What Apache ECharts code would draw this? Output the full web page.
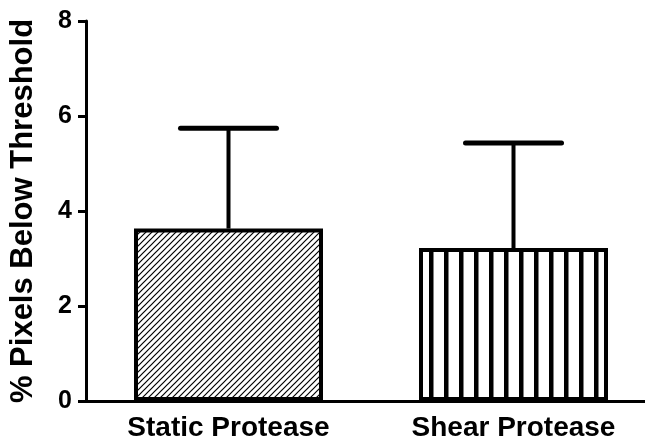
<!DOCTYPE html>
<html>
<head>
<meta charset="utf-8">
<script src="https://cdn.jsdelivr.net/npm/echarts@6/dist/echarts.min.js"></script>
<style>
html,body{margin:0;padding:0;background:#fff;overflow:hidden;width:645px;height:446px;}
#c{width:660px;height:446px;}
</style>
</head>
<body>
<div id="c"></div>
<script>
var categories = ['Static Protease', 'Shear Protease'];
var means = [3.63, 3.22];
var upperErr = [5.74, 5.43];
var yTicks = [0, 2, 4, 6, 8];

function diagPattern() {
  var s = 6;
  var cv = document.createElement('canvas');
  cv.width = s; cv.height = s;
  var ctx = cv.getContext('2d');
  ctx.fillStyle = '#fff'; ctx.fillRect(0, 0, s, s);
  ctx.strokeStyle = '#000'; ctx.lineWidth = 1.2;
  ctx.beginPath();
  ctx.moveTo(-1, s + 1); ctx.lineTo(s + 1, -1);
  ctx.moveTo(-1, 1); ctx.lineTo(1, -1);
  ctx.moveTo(s - 1, s + 1); ctx.lineTo(s + 1, s - 1);
  ctx.stroke();
  return cv;
}
function vertPattern() {
  var w = 15;
  var cv = document.createElement('canvas');
  cv.width = w; cv.height = 10;
  var ctx = cv.getContext('2d');
  ctx.fillStyle = '#fff'; ctx.fillRect(0, 0, w, 10);
  ctx.fillStyle = '#000'; ctx.fillRect(9, 0, 4.5, 10);
  return cv;
}

var patterns = [
  { image: diagPattern(), repeat: 'repeat' },
  { image: vertPattern(), repeat: 'repeat' }
];

var chart = echarts.init(document.getElementById('c'), null, { renderer: 'canvas' });
var font = '"Liberation Sans", Arial, sans-serif';
chart.setOption({
  animation: false,
  backgroundColor: '#fff',
  grid: { left: 86, top: 21, width: 570, height: 380, containLabel: false, outerBoundsMode: 'none' },
  xAxis: {
    type: 'category',
    data: categories,
    axisLine: { lineStyle: { color: '#000', width: 3 } },
    axisTick: { alignWithLabel: true, length: 10, lineStyle: { color: '#000', width: 3 } },
    axisLabel: { color: '#000', fontFamily: font, fontWeight: 'bold', fontSize: 28, margin: 13 },
    splitLine: { show: false }
  },
  yAxis: {
    type: 'value',
    min: 0, max: 8, interval: 2,
    name: '% Pixels Below Threshold',
    nameLocation: 'middle',
    nameGap: 47,
    nameTextStyle: { color: '#000', fontFamily: font, fontWeight: 'bold', fontSize: 31 },
    axisLine: { show: true, lineStyle: { color: '#000', width: 3 } },
    axisTick: { show: true, length: 8, lineStyle: { color: '#000', width: 3 } },
    axisLabel: { color: '#000', fontFamily: font, fontWeight: 'bold', fontSize: 25, margin: 14,
      formatter: function (v) { return yTicks.indexOf(v) >= 0 ? String(v) : ''; } },
    splitLine: { show: false }
  },
  series: [
    {
      type: 'bar',
      barWidth: 189,
      data: means.map(function (v, i) {
        return { value: v, itemStyle: { color: patterns[i], borderColor: '#000', borderWidth: 4 } };
      }),
      z: 2
    },
    {
      type: 'custom',
      z: 3,
      data: means.map(function (v, i) { return [i, v, upperErr[i]]; }),
      renderItem: function (params, api) {
        var base = api.coord([api.value(0), api.value(1)]);
        var top = api.coord([api.value(0), api.value(2)]);
        var half = 48;
        return {
          type: 'group',
          children: [
            { type: 'line', shape: { x1: base[0], y1: base[1], x2: top[0], y2: top[1] },
              style: { stroke: '#000', lineWidth: 4 } },
            { type: 'line', shape: { x1: top[0] - half, y1: top[1], x2: top[0] + half, y2: top[1] },
              style: { stroke: '#000', lineWidth: 5, lineCap: 'round' } }
          ]
        };
      }
    }
  ]
});
</script>
</body>
</html>
